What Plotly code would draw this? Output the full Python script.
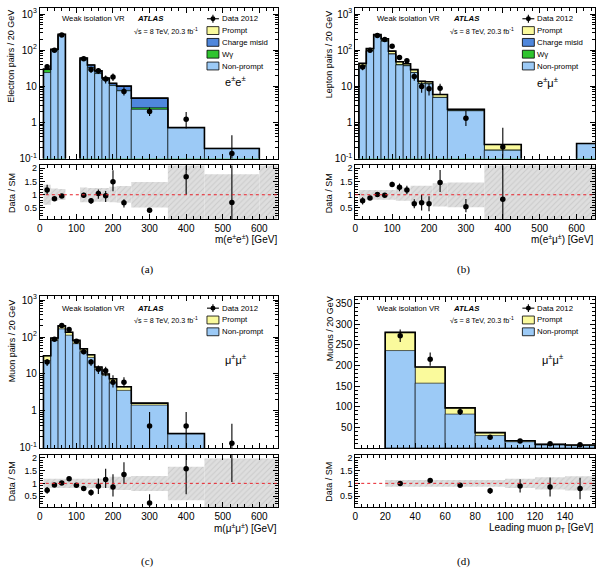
import numpy as np
import plotly.graph_objects as go

W, H = 601, 576
def fx(x): return x / W
def fy(y): return 1 - y / H

FONT = "Liberation Sans, Arial, Helvetica, sans-serif"
SERIF = "Liberation Serif, DejaVu Serif, serif"
C_NP = "#9ccaf6"
C_PR = "#fafa9c"
C_CM = "#4f87dc"
C_WG = "#2fc42f"

# ---------------- Panel (a): e±e± ----------------
A_lo = [10, 30, 50, 110, 130, 150, 170, 190, 210, 250, 350, 450]
A_hi = [30, 50, 70, 130, 150, 170, 190, 210, 250, 350, 450, 600]
A_nonprompt = [24, 100, 262, 54, 33, 22.5, 15, 10.5, 7.5, 2.3, 0.70, 0.19]
A_wgamma = [5, 3, 2, 1, 0.5, 0.3, 0.2, 0.2, 0.2, 0.25, 0.005, 0]
A_chargemisid = [0.5, 2, 10, 5, 5, 3.5, 1.5, 1.2, 2.2, 2.05, 0.01, 0]
A_prompt = [0.3, 1, 3, 1, 0.5, 0.5, 0.3, 0.2, 0.2, 0.1, 0.005, 0]
A_data_x = [20, 40, 60, 120, 140, 160, 180, 200, 230, 300, 400, 525]
A_data_y = [35, 100, 262, 58, 29, 27, 16, 18, 7.2, 2.0, 1.23, 0.138]
A_data_eup = [6, 10, 16, 8, 5.5, 5, 4, 4.5, 2.2, 0.6, 0.7, 0.3]
A_data_edn = [6, 10, 16, 8, 5.5, 5, 4, 4, 1.6, 0.5, 0.55, 0.134]
A_ratio_y = [1.18, 0.85, 0.95, 0.98, 0.77, 1.05, 0.96, 1.49, 0.70, 0.41, 1.68, 0.71]
A_ratio_eup = [0.20, 0.06, 0.04, 0.10, 0.10, 0.15, 0.18, 0.44, 0.13, 0.09, 0.90, 2.0]
A_ratio_edn = [0.18, 0.06, 0.04, 0.10, 0.12, 0.20, 0.23, 0.36, 0.18, 0.11, 0.68, 0.71]
A_band_from = [10, 30, 50, 110, 130, 190, 210, 250, 350, 450, 600]
A_band_to = [30, 50, 70, 130, 190, 210, 250, 350, 450, 600, 650]
A_band_low = [0.62, 0.76, 0.80, 0.72, 0.74, 0.72, 0.70, 0.52, 0.0, 0.0, 0.0]
A_band_high = [1.38, 1.24, 1.22, 1.27, 1.26, 1.30, 1.33, 1.48, 3.0, 1.78, 3.0]

# ---------------- Panel (b): e±μ± ----------------
B_lo = [10, 30, 50, 70, 90, 110, 130, 150, 170, 190, 210, 250, 350, 600]
B_hi = [30, 50, 70, 90, 110, 130, 150, 170, 190, 210, 250, 350, 450, 700]
B_nonprompt = [36, 96, 245, 178, 78, 39, 37, 24, 12, 11.7, 4.9, 2.1, 0.17, 0.26]
B_wgamma = [0.3, 0.5, 0.5, 0.5, 0.3, 0.2, 0.1, 0.1, 0.05, 0.05, 0.02, 0.01, 0, 0]
B_chargemisid = [0.2, 0.5, 1, 1, 0.5, 0.3, 0.2, 0.1, 0.05, 0.05, 0.02, 0.01, 0, 0]
B_prompt = [6.5, 14, 23.5, 27.5, 15.2, 8.5, 4.7, 4.8, 1.7, 1.6, 0.96, 0.18, 0.075, 0]
B_data_x = [20, 40, 60, 80, 100, 120, 140, 160, 180, 200, 230, 300, 400]
B_data_y = [34, 100, 254, 198, 128, 63, 51, 18.6, 9.8, 8.6, 8.8, 1.3, 0.21]
B_data_eup = [6, 10, 16, 14, 11, 8, 7, 4.3, 3.2, 3, 3, 0.8, 0.5]
B_data_edn = [6, 10, 16, 14, 11, 8, 7, 4.3, 3.2, 3, 3, 0.5, 0.205]
B_ratio_y = [0.77, 0.88, 1.01, 0.98, 1.39, 1.28, 1.18, 0.66, 0.70, 0.66, 1.46, 0.55, 0.83]
B_ratio_eup = [0.14, 0.07, 0.04, 0.05, 0.10, 0.15, 0.16, 0.17, 0.30, 0.28, 0.48, 0.29, 2.0]
B_ratio_edn = [0.14, 0.07, 0.04, 0.05, 0.10, 0.15, 0.16, 0.17, 0.30, 0.28, 0.36, 0.21, 0.83]
B_band_from = [10, 110, 150, 210, 250, 350]
B_band_to = [110, 150, 210, 250, 350, 650]
B_band_low = [0.81, 0.77, 0.68, 0.56, 0.53, 0.0]
B_band_high = [1.18, 1.27, 1.34, 1.44, 1.46, 3.0]

# ---------------- Panel (c): μ±μ± ----------------
C_lo = [10, 30, 50, 70, 90, 110, 130, 150, 170, 190, 210, 250, 350]
C_hi = [30, 50, 70, 90, 110, 130, 150, 170, 190, 210, 250, 350, 450]
C_nonprompt = [23, 81, 166, 112, 66, 40, 28, 13.5, 9.2, 5.8, 3.6, 1.44, 0.24]
C_prompt = [8, 13, 34, 23, 15, 8, 5, 1.9, 0.8, 1.6, 0.9, 0.19, 0.005]
C_data_x = [20, 40, 60, 80, 100, 120, 140, 160, 180, 200, 230, 300, 400, 525]
C_data_y = [21, 87, 204, 159, 77, 40, 21, 13.5, 12.2, 6, 6, 0.39, 0.39, 0.133]
C_data_eup = [4.5, 9, 14, 12.5, 9, 6, 4.5, 3.5, 3.5, 3.2, 2.2, 0.55, 0.55, 0.32]
C_data_edn = [4.5, 9, 14, 12.5, 9, 6, 4.5, 3.5, 3.5, 1.7, 1.6, 0.38, 0.38, 0.13]
C_ratio_x = [20, 40, 60, 80, 100, 120, 140, 160, 180, 200, 230, 300, 400, 525]
C_ratio_y = [0.73, 0.94, 1.01, 1.18, 0.93, 0.80, 0.64, 0.89, 1.15, 0.86, 1.34, 0.24, 1.57, 3.0]
C_ratio_eup = [0.13, 0.06, 0.04, 0.06, 0.07, 0.10, 0.12, 0.30, 0.42, 0.49, 0.48, 0.34, 1.0, 0.0]
C_ratio_edn = [0.13, 0.06, 0.04, 0.06, 0.07, 0.10, 0.12, 0.30, 0.33, 0.37, 0.36, 0.15, 0.99, 1.95]
C_band_from = [10, 190, 250, 350, 450]
C_band_to = [190, 250, 350, 450, 650]
C_band_low = [0.82, 0.74, 0.70, 0.34, 0.0]
C_band_high = [1.18, 1.26, 1.29, 1.65, 1.97]

# ---------------- Panel (d): leading muon pT ----------------
D_lo = [20, 40, 60, 80, 100, 120, 140]
D_hi = [40, 60, 80, 100, 120, 140, 160]
D_nonprompt = [236, 157, 82, 30, 15, 7, 5.6]
D_prompt = [44, 39, 15, 7, 2.6, 2, 1.4]
D_data_x = [30, 50, 70, 90, 110, 130, 150]
D_data_y = [272, 215, 88, 26, 16.8, 10.4, 8]
D_data_err = [15, 16, 8, 5, 4, 3, 3]
D_ratio_y = [0.99, 1.11, 0.93, 0.71, 0.90, 0.86, 0.80]
D_ratio_err = [0.04, 0.05, 0.07, 0.12, 0.26, 0.37, 0.42]
D_band_from = [20, 100, 120, 140]
D_band_to = [100, 120, 140, 160]
D_band_low = [0.87, 0.82, 0.76, 0.72]
D_band_high = [1.13, 1.18, 1.24, 1.28]

fig = go.Figure()

def stack(xa, ya, lo, hi, comps, floor):
    centers = [(l + h) / 2 for l, h in zip(lo, hi)]
    widths = [h - l for l, h in zip(lo, hi)]
    cum = np.cumsum(np.array([c[1] for c in comps], dtype=float), axis=0)
    for i in range(len(comps) - 1, -1, -1):
        fig.add_trace(go.Bar(x=centers, y=cum[i], width=widths, xaxis=xa, yaxis=ya,
                             marker=dict(color=comps[i][2], line=dict(color="black", width=0.6)),
                             showlegend=False, hoverinfo="skip"))
    tot = cum[-1]
    xs, ys = [lo[0]], [floor]
    for i in range(len(lo)):
        xs += [lo[i], hi[i]]
        ys += [tot[i], tot[i]]
        if i + 1 < len(lo) and lo[i + 1] != hi[i]:
            xs += [hi[i], None, lo[i + 1]]
            ys += [floor, None, floor]
    xs.append(hi[-1]); ys.append(floor)
    fig.add_trace(go.Scatter(x=xs, y=ys, mode="lines", line=dict(color="black", width=1.6),
                             xaxis=xa, yaxis=ya, showlegend=False, hoverinfo="skip"))

def band(xa, ya, lo, hi, low, high):
    centers = [(l + h) / 2 for l, h in zip(lo, hi)]
    widths = [h - l for l, h in zip(lo, hi)]
    fig.add_trace(go.Bar(x=centers, y=[h - l for l, h in zip(low, high)], base=low, width=widths,
                         xaxis=xa, yaxis=ya, showlegend=False, hoverinfo="skip",
                         marker=dict(color="#dedede", line=dict(width=0),
                                     pattern=dict(shape="/", fgcolor="#b4b4b4", bgcolor="#dedede",
                                                  size=4, solidity=0.25))))
    fig.add_shape(type="line", xref=f"{xa} domain", yref=ya, x0=0, x1=1, y0=1, y1=1,
                  line=dict(color="#e8202a", width=1, dash="dot"))

def points(xa, ya, x, y, eup, edn):
    fig.add_trace(go.Scatter(x=x, y=y, mode="markers", xaxis=xa, yaxis=ya, showlegend=False,
                             marker=dict(color="black", size=5.5),
                             error_y=dict(type="data", symmetric=False, array=eup, arrayminus=edn,
                                          color="black", thickness=1.1, width=0),
                             hoverinfo="skip"))

# Panel A
stack("x", "y", A_lo, A_hi, [("Non-prompt", A_nonprompt, C_NP), ("Wγ", A_wgamma, C_WG),
                             ("Charge misid", A_chargemisid, C_CM), ("Prompt", A_prompt, C_PR)], 1e-3)
points("x", "y", A_data_x, A_data_y, A_data_eup, A_data_edn)
band("x2", "y2", A_band_from, A_band_to, A_band_low, A_band_high)
points("x2", "y2", A_data_x, A_ratio_y, A_ratio_eup, A_ratio_edn)
# Panel B
stack("x3", "y3", B_lo, B_hi, [("Non-prompt", B_nonprompt, C_NP), ("Wγ", B_wgamma, C_WG),
                               ("Charge misid", B_chargemisid, C_CM), ("Prompt", B_prompt, C_PR)], 1e-3)
points("x3", "y3", B_data_x, B_data_y, B_data_eup, B_data_edn)
band("x4", "y4", B_band_from, B_band_to, B_band_low, B_band_high)
points("x4", "y4", B_data_x, B_ratio_y, B_ratio_eup, B_ratio_edn)
# Panel C
stack("x5", "y5", C_lo, C_hi, [("Non-prompt", C_nonprompt, C_NP), ("Prompt", C_prompt, C_PR)], 1e-3)
points("x5", "y5", C_data_x, C_data_y, C_data_eup, C_data_edn)
band("x6", "y6", C_band_from, C_band_to, C_band_low, C_band_high)
points("x6", "y6", C_ratio_x, C_ratio_y, C_ratio_eup, C_ratio_edn)
# Panel D
stack("x7", "y7", D_lo, D_hi, [("Non-prompt", D_nonprompt, C_NP), ("Prompt", D_prompt, C_PR)], 0)
points("x7", "y7", D_data_x, D_data_y, D_data_err, D_data_err)
band("x8", "y8", D_band_from, D_band_to, D_band_low, D_band_high)
points("x8", "y8", D_data_x, D_ratio_y, D_ratio_err, D_ratio_err)

def ax(**kw):
    d = dict(showline=True, linecolor="black", linewidth=1, mirror="allticks", ticks="inside",
             ticklen=5, tickwidth=1, tickcolor="black", showgrid=False, zeroline=False,
             tickfont=dict(family=FONT, size=10, color="black"))
    d.update(kw)
    return d

log_minor = [m * 10 ** e for e in range(-1, 4) for m in range(2, 10)]
panels = {
    # name: (x left, x right, main top, main bottom, ratio top, ratio bottom)
    "A": (37, 276, 5, 158, 165, 219.5),
    "B": (354, 595, 5, 158, 165, 219.5),
    "C": (37, 276, 298, 452, 459, 512),
    "D": (354, 595, 299, 452, 459, 512),
}
axis_ids = {"A": (1, 2), "B": (3, 4), "C": (5, 6), "D": (7, 8)}
layout = {}
for p, (xl, xr, mt, mb, rt, rb) in panels.items():
    m, r = axis_ids[p]
    mk = "" if m == 1 else str(m)
    rk = str(r)
    xdom = [fx(xl), fx(xr)]
    if p == "D":
        xr_range = [0, 160]
        xmaj = dict(tick0=0, dtick=20)
        xmin = dict(ticks="inside", ticklen=3, tickcolor="black", tick0=0, dtick=4)
    else:
        xr_range = [0, 650]
        xmaj = dict(tick0=0, dtick=100)
        xmin = dict(ticks="inside", ticklen=3, tickcolor="black", tick0=0, dtick=20)
    layout["xaxis" + mk] = ax(domain=xdom, range=xr_range, anchor="y" + mk, showticklabels=False,
                              minor=xmin, **xmaj)
    layout["xaxis" + rk] = ax(domain=xdom, range=xr_range, anchor="y" + rk, minor=xmin, **xmaj)
    if p == "D":
        layout["yaxis" + mk] = ax(domain=[fy(mb), fy(mt)], range=[0, 365], anchor="x" + mk,
                                  tickvals=[50, 100, 150, 200, 250, 300, 350],
                                  minor=dict(ticks="inside", ticklen=3, tickcolor="black", tick0=0, dtick=10))
    else:
        top = 3.1 if p == "C" else 3.17
        layout["yaxis" + mk] = ax(domain=[fy(mb), fy(mt)], type="log", range=[-1, top], anchor="x" + mk,
                                  tickvals=[0.1, 1, 10, 100, 1000],
                                  ticktext=["10<sup>-1</sup>", "1", "10", "10<sup>2</sup>", "10<sup>3</sup>"],
                                  minor=dict(ticks="inside", ticklen=3, tickcolor="black", tickvals=log_minor))
    layout["yaxis" + rk] = ax(domain=[fy(rb), fy(rt)], range=[0.08, 2.11], anchor="x" + rk,
                              tickvals=[0.5, 1, 1.5, 2], ticktext=["0.5", "1", "1.5", "2"],
                              tickfont=dict(family=FONT, size=9, color="black"),
                              minor=dict(ticks="inside", ticklen=3, tickcolor="black", tick0=0, dtick=0.1))

fig.update_layout(width=W, height=H, autosize=False, margin=dict(l=0, r=0, t=0, b=0),
                  paper_bgcolor="white", plot_bgcolor="white", barmode="overlay",
                  showlegend=False, **layout)

def ann(text, x, y, size, xanchor="left", yanchor="middle", angle=0, family=FONT):
    fig.add_annotation(text=text, x=fx(x), y=fy(y), xref="paper", yref="paper", showarrow=False,
                       xanchor=xanchor, yanchor=yanchor, textangle=angle, borderpad=0,
                       font=dict(size=size, family=family, color="black"))

def rect(x0, y0, x1, y1, fill):
    fig.add_shape(type="rect", xref="paper", yref="paper", x0=fx(x0), x1=fx(x1), y0=fy(y1), y1=fy(y0),
                  fillcolor=fill, line=dict(color="black", width=0.8))

def header(L, T, entries, channel, chx, chy):
    ann("Weak isolation VR", L + 21, T + 16, 7.7)
    ann("<b><i>ATLAS</i></b>", L + 97, T + 16, 7.8)
    ann("√s = 8 TeV, 20.3 fb<sup>-1</sup>", L + 94, T + 28, 7.2)
    sx = L + 174
    for k, (label, color) in enumerate(entries):
        y = T + 16 + 12 * k
        if color is None:
            fig.add_shape(type="line", xref="paper", yref="paper", x0=fx(sx - 6), x1=fx(sx + 6),
                          y0=fy(y), y1=fy(y), line=dict(color="black", width=1.1))
            fig.add_shape(type="line", xref="paper", yref="paper", x0=fx(sx), x1=fx(sx),
                          y0=fy(y - 4), y1=fy(y + 4), line=dict(color="black", width=1.1))
            fig.add_shape(type="circle", xref="paper", yref="paper", x0=fx(sx - 2.5), x1=fx(sx + 2.5),
                          y0=fy(y + 2.5), y1=fy(y - 2.5), fillcolor="black", line=dict(color="black", width=0))
        else:
            rect(sx - 6, y - 4, sx + 6, y + 4, color)
        ann(label, L + 182, y, 7.8)
    ann(channel, chx, chy, 11, xanchor="center")

full = [("Data 2012", None), ("Prompt", C_PR), ("Charge misid", C_CM), ("Wγ", C_WG), ("Non-prompt", C_NP)]
short = [("Data 2012", None), ("Prompt", C_PR), ("Non-prompt", C_NP)]
header(37, 0, full, "e<sup>±</sup>e<sup>±</sup>", 234, 79)
header(354, 0, full, "e<sup>±</sup>μ<sup>±</sup>", 547, 80)
header(37, 294, short, "μ<sup>±</sup>μ<sup>±</sup>", 234, 362)
header(354, 294, short, "μ<sup>±</sup>μ<sup>±</sup>", 552, 362)

# axis titles
ann("Electron pairs / 20 GeV", 8.5, 6, 9, xanchor="center", yanchor="top", angle=-90)
ann("Lepton pairs / 20 GeV", 328, 6, 9, xanchor="center", yanchor="top", angle=-90)
ann("Muon pairs / 20 GeV", 8.5, 300, 9, xanchor="center", yanchor="top", angle=-90)
ann("Muons / 20 GeV", 328, 297, 9, xanchor="center", yanchor="top", angle=-90)
for (x, y) in [(9, 193), (328, 193), (9, 486), (328, 486)]:
    ann("Data / SM", x, y, 9, xanchor="center", yanchor="middle", angle=-90)
ann("m(e<sup>±</sup>e<sup>±</sup>) [GeV]", 276, 240, 10, xanchor="right")
ann("m(e<sup>±</sup>μ<sup>±</sup>) [GeV]", 595, 240, 10, xanchor="right")
ann("m(μ<sup>±</sup>μ<sup>±</sup>) [GeV]", 276, 533, 10, xanchor="right")
ann("Leading muon p<sub>T</sub> [GeV]", 595, 533, 10, xanchor="right")
# sub-figure labels
for t, x, y in [("(a)", 145, 271), ("(b)", 463, 271), ("(c)", 145, 567), ("(d)", 463, 567)]:
    ann(t, x, y, 11, xanchor="center", family=SERIF)

fig.write_html("out.html")
